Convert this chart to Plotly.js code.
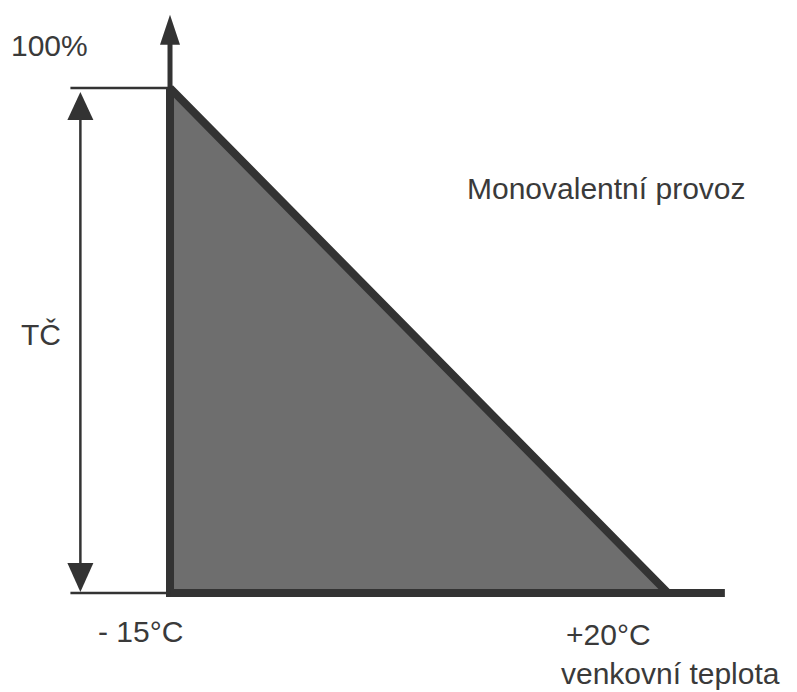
<!DOCTYPE html>
<html>
<head>
<meta charset="utf-8">
<script src="https://cdn.plot.ly/plotly-3.0.1.min.js"></script>
<style>
  html, body { margin: 0; padding: 0; background: #fff; }
  #plot { width: 797px; height: 692px; }
</style>
</head>
<body>
<div id="plot"></div>
<script>
// outdoor temperature (deg C) and heat pump share (%) of the triangle
var temps = [-15, -15, 20, -15];
var share = [100, 0, 0, 100];

var tempLabels = ['- 15°C', '+20°C'];
var topLabel = '100%';
var sideLabel = 'TČ';
var modeLabel = 'Monovalentní provoz';
var axisLabel = 'venkovní teplota';

var dark = '#333333';
var textColor = '#3a3a3a';
var dimX = -21.3;   // position of the double arrow
var tickX = -22.0;  // left end of the 0% / 100% lines

var triangle = {
    x: temps,
    y: share,
    type: 'scatter',
    mode: 'lines',
    fill: 'toself',
    fillcolor: '#6e6e6e',
    line: { color: dark, width: 8 },
    hoverinfo: 'skip'
};

// vertical axis above the triangle
var yAxisLine = {
    x: [-15, -15],
    y: [100, 111],
    type: 'scatter',
    mode: 'lines',
    line: { color: dark, width: 5 },
    hoverinfo: 'skip'
};

// horizontal axis
var xAxisLine = {
    x: [-15, 24],
    y: [0, 0],
    type: 'scatter',
    mode: 'lines',
    line: { color: dark, width: 8 },
    hoverinfo: 'skip'
};

var topLine = {
    x: [tickX, -15],
    y: [100, 100],
    type: 'scatter',
    mode: 'lines',
    line: { color: dark, width: 2.5 },
    hoverinfo: 'skip'
};

var bottomLine = {
    x: [tickX, -15],
    y: [0, 0],
    type: 'scatter',
    mode: 'lines',
    line: { color: dark, width: 2.5 },
    hoverinfo: 'skip'
};

var dimLine = {
    x: [dimX, dimX],
    y: [2, 98],
    type: 'scatter',
    mode: 'lines',
    line: { color: dark, width: 2.5 },
    hoverinfo: 'skip'
};

function head(xa, ya, path) {
    return {
        type: 'path',
        xref: 'x', yref: 'y',
        xsizemode: 'pixel', ysizemode: 'pixel',
        xanchor: xa, yanchor: ya,
        path: path,
        fillcolor: dark,
        line: { width: 0 }
    };
}

var shapes = [
    head(-15, 114.5, 'M0,0 L-10,-30 L10,-30 Z'),
    head(dimX, 100, 'M0,-4 L-13,-32 L13,-32 Z'),
    head(dimX, 0, 'M0,1 L-13,30 L13,30 Z')
];

var font = { family: 'Liberation Sans, Arial, sans-serif', size: 30, color: textColor };

function label(text, x, y) {
    return {
        text: text, x: x, y: y,
        xref: 'x', yref: 'y',
        xanchor: 'left', yanchor: 'middle',
        showarrow: false,
        font: font
    };
}

var annotations = [
    label(topLabel, -26.3, 108.5),
    label(sideLabel, -25.6, 51.1),
    label(modeLabel, 5.7, 80.2),
    label(tempLabels[0], -20.2, -7.7),
    label(tempLabels[1], 12.7, -8.3),
    label(axisLabel, 12.35, -15.9)
];

var layout = {
    width: 797,
    height: 692,
    margin: { l: 0, r: 0, t: 0, b: 0 },
    paper_bgcolor: '#ffffff',
    plot_bgcolor: '#ffffff',
    showlegend: false,
    xaxis: { range: [-26.95, 29.07], visible: false, fixedrange: true },
    yaxis: { range: [-19.6, 117.43], visible: false, fixedrange: true },
    shapes: shapes,
    annotations: annotations
};

var plotElement = document.getElementById('plot');
if (plotElement) {
    Plotly.newPlot('plot', [triangle, yAxisLine, xAxisLine, topLine, bottomLine, dimLine], layout, { staticPlot: true });
} else {
    console.error("No DOM element with id 'plot' exists on the page.");
}
</script>
</body>
</html>
